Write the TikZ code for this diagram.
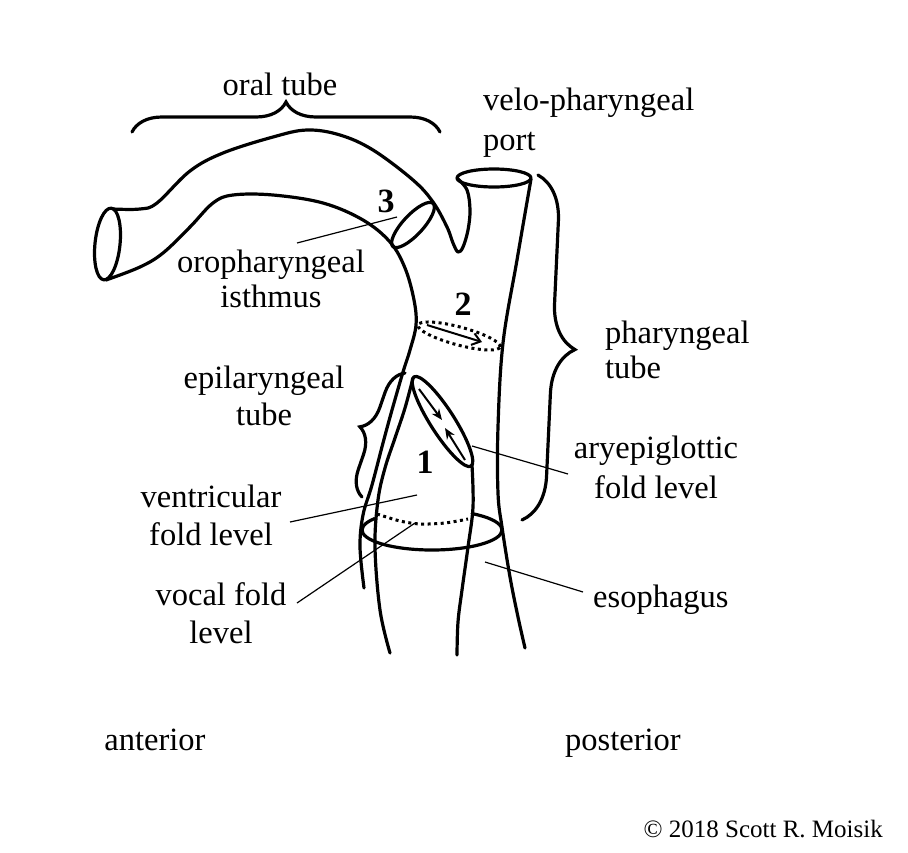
\documentclass[tikz,border=0pt]{standalone}
\usepackage{fontspec}
\setmainfont{Liberation Serif}
\usetikzlibrary{decorations.pathreplacing,arrows.meta}
\begin{document}
\begin{tikzpicture}[x=1pt,y=-1pt,
  wall/.style={line width=3.2pt, line cap=round, line join=round},
  dots/.style={line width=3pt, dash pattern=on 3pt off 3.5pt},
  leader/.style={line width=1.2pt},
  lbl/.style={inner sep=0pt, font=\fontsize{32.5}{38}\selectfont},
  num/.style={inner sep=0pt, font=\fontsize{34}{38}\selectfont\bfseries},
  bracestyle/.style={line width=3.2pt, line cap=round, decorate, decoration={brace, amplitude=#1}},
  flow/.style={line width=2pt, -{Straight Barb[length=8pt,width=12pt]}},
  squeeze/.style={line width=2pt, -{Stealth[length=11pt,width=9pt]}}
]
\useasboundingbox[fill=white] (0,0) rectangle (908,852);

% oral tube upper wall, velum, port
\draw[wall] plot[smooth, tension=0.6] coordinates {(113,209) (140,209) (157,203) (190,171) (223,153) (273,137) (307,130) (340,135) (373,150) (413,180) (433,202) (447,227) (453,243) (458,252) (463,247) (468,230) (470,210) (467,190) (457,178)};
% oral tube lower wall and anterior pharyngeal wall
\draw[wall] plot[smooth, tension=0.6] coordinates {(106,280) (140,267) (163,253) (190,227) (213,203) (233,195) (273,195) (323,203) (363,220) (390,242) (405,268) (414,300) (416,325) (410,350) (403,372) (392,410) (383,443) (372,485) (363,515) (360,547) (364,588)};
% posterior pharyngeal wall
\draw[wall] plot[smooth, tension=0.6] coordinates {(531,179) (517,260) (503,343) (498,427) (498,493) (502,527) (510,577) (518,617) (525,648)};
% larynx walls
\draw[wall] plot[smooth, tension=0.6] coordinates {(413,378) (405,408) (395,438) (385,468) (378,500) (375,547) (380,610) (390,653)};
\draw[wall] plot[smooth, tension=0.6] coordinates {(472,465) (473,507) (468,547) (462,590) (458,622) (457,655)};

% ellipses
\draw[wall, rotate around={-6:(107.5,244)}] (107.5,244) ellipse [x radius=12.5pt, y radius=36pt];
\draw[wall] (494,178) ellipse [x radius=37pt, y radius=9pt];
\draw[wall, rotate around={47:(413,225)}] (413,225) ellipse [x radius=29.5pt, y radius=10pt];
\draw[dots, rotate around={-15:(459,336)}] (459,336) ellipse [x radius=42.5pt, y radius=9pt];
\draw[wall, rotate around={-57.4:(442.5,421.5)}] (442.5,421.5) ellipse [x radius=53pt, y radius=12pt];
\draw[wall] (432,530) ++(55:70pt and 20pt) arc[start angle=55, end angle=-215, x radius=70pt, y radius=20pt];
\draw[dots] plot[smooth] coordinates {(377,514) (400,521) (420,524) (445,523) (468,519)};

% flow arrows
\draw[flow] (427,325) -- (482,342);
\draw[squeeze] (419,389) -- (442,420);
\draw[squeeze] (465,460) -- (445,428);

% braces
\draw[bracestyle=30] (132,132) -- (440,132);
\draw[bracestyle=45] (538,175) -- (522,520);
\draw[bracestyle=25] (362,497) -- (405,373);

% labels (base anchor = baseline of the last line)
\node[lbl, anchor=base, align=center] (oraltube) at (280,95) {oral tube};
\node[lbl, anchor=base west, align=left] (velo) at (483,150) {velo-pharyngeal\\[2pt]port};
\node[num, anchor=base] (n3) at (386,212) {3};
\node[lbl, anchor=base, align=center] (oro) at (271,307) {oropharyngeal\\[-3pt]isthmus};
\node[num, anchor=base] (n2) at (463,315) {2};
\node[lbl, anchor=base west, align=left] (phar) at (605,378) {pharyngeal\\[-3pt]tube};
\node[lbl, anchor=base, align=center] (epi) at (264,425) {epilaryngeal\\[-1pt]tube};
\node[num, anchor=base] (n1) at (425,473) {1};
\node[lbl, anchor=base, align=center] (arye) at (656,498) {aryepiglottic\\[2pt]fold level};
\node[lbl, anchor=base, align=center] (vent) at (211,545) {ventricular\\fold level};
\node[lbl, anchor=base, align=center] (vocal) at (221,643) {vocal fold\\level};
\node[lbl, anchor=base west] (eso) at (593,607) {esophagus};
\node[lbl, anchor=base] (ant) at (155,750) {anterior};
\node[lbl, anchor=base] (post) at (623,750) {posterior};
\node[inner sep=0pt, font=\fontsize{25}{30}\selectfont, anchor=base east] (copy) at (883,837) {© 2018 Scott R. Moisik};

% leader lines
\coordinate (c3a) at (397,217); \coordinate (c3b) at (297,243);
\coordinate (cAa) at (472,446); \coordinate (cAb) at (568,474);
\coordinate (cVa) at (417,495); \coordinate (cVb) at (290,522);
\coordinate (cFa) at (415,523); \coordinate (cFb) at (297,603);
\coordinate (cEa) at (485,562); \coordinate (cEb) at (583,592);
\draw[leader] (c3a) -- (c3b);
\draw[leader] (cAa) -- (cAb);
\draw[leader] (cVa) -- (cVb);
\draw[leader] (cFa) -- (cFb);
\draw[leader] (cEa) -- (cEb);
\end{tikzpicture}
\end{document}
